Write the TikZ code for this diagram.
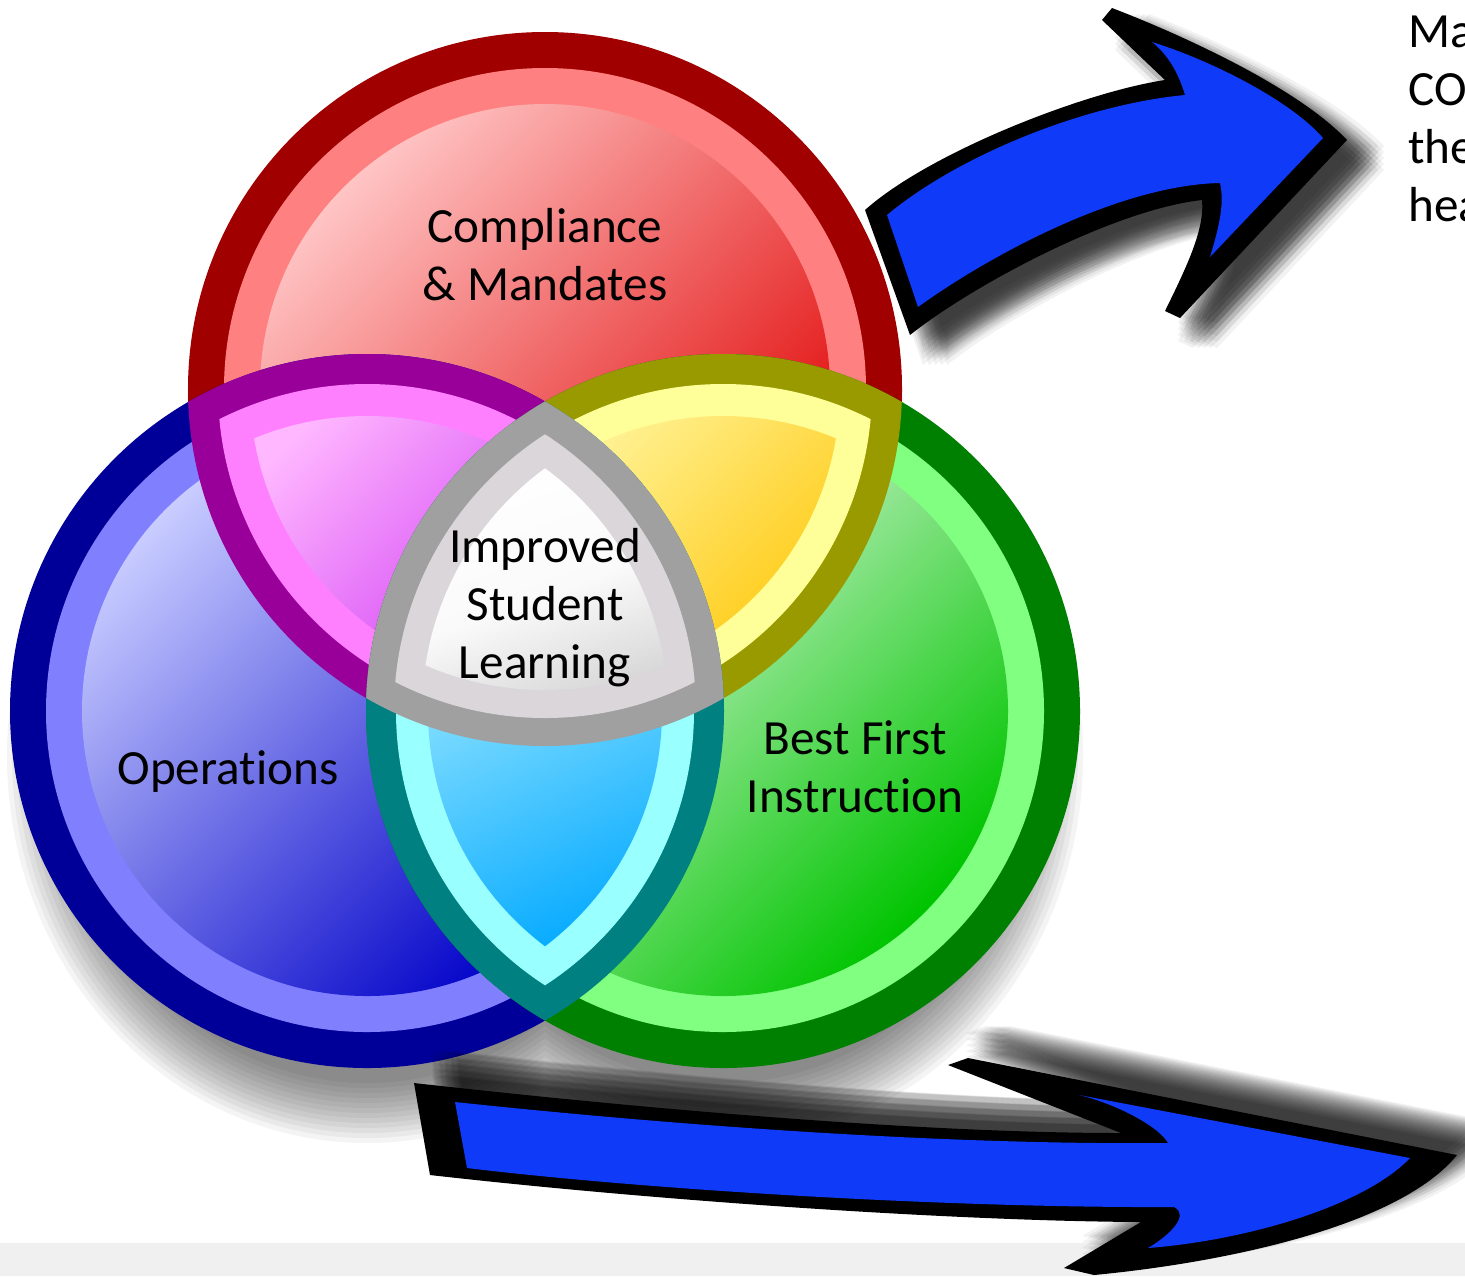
\documentclass[tikz,border=0pt]{standalone}
\usepackage{fontspec}
\setmainfont[Ligatures=NoCommon]{Carlito}
\definecolor{redD}{HTML}{A00000}\definecolor{redL}{HTML}{FF8080}
\definecolor{redA}{HTML}{FFC4C4}\definecolor{redB}{HTML}{E00000}
\definecolor{bluD}{HTML}{000099}\definecolor{bluL}{HTML}{8080FF}
\definecolor{bluA}{HTML}{C8CCFF}\definecolor{bluB}{HTML}{0000C8}
\definecolor{grnD}{HTML}{008000}\definecolor{grnL}{HTML}{80FF80}
\definecolor{grnA}{HTML}{FFFFFF}\definecolor{grnB}{HTML}{00C400}
\definecolor{magD}{HTML}{990099}\definecolor{magL}{HTML}{FF80FF}
\definecolor{magA}{HTML}{FFB8FF}\definecolor{magB}{HTML}{C41CF0}
\definecolor{yelD}{HTML}{999900}\definecolor{yelL}{HTML}{FFFF99}
\definecolor{yelA}{HTML}{FFFFC0}\definecolor{yelB}{HTML}{FFC400}
\definecolor{cyaD}{HTML}{008080}\definecolor{cyaL}{HTML}{99FFFF}
\definecolor{cyaA}{HTML}{D4FFFF}\definecolor{cyaB}{HTML}{00A8FF}
\definecolor{gryD}{HTML}{A0A0A0}\definecolor{gryL}{HTML}{DAD6DA}
\definecolor{gryM}{HTML}{FAFAFA}\definecolor{gryB}{HTML}{D0D0D0}
\definecolor{arrBlue}{RGB}{14,58,248}
\definecolor{stripGray}{HTML}{F0F0F0}
\begin{document}
\begin{tikzpicture}[x=0.5pt,y=-0.5pt,
  lab/.style={font=\fontsize{24.6}{29}\selectfont, align=center, inner sep=0pt, text=black},
  sidetext/.style={font=\fontsize{24.6}{29}\selectfont, align=left, inner sep=0pt, text=black},
  toparr/.style={insert path={(865,210) .. controls (930,152) and (1085,92) .. (1165,80) -- (1102,20) -- (1112,8) .. controls (1190,38) and (1300,90) .. (1347,140) -- (1180,318) -- (1165,311) .. controls (1185,270) and (1205,230) .. (1202,200) .. controls (1112,210) and (970,287) .. (910,335) -- cycle}},
  toparrin/.style={insert path={(887,215) .. controls (955,158) and (1080,105) .. (1185,95) .. controls (1178,72) and (1168,55) .. (1152,42) .. controls (1210,60) and (1290,100) .. (1323,138) -- (1210,257) .. controls (1218,230) and (1225,205) .. (1220,183) .. controls (1120,185) and (990,255) .. (918,307) -- cycle}},
  botarr/.style={insert path={(414,1083) .. controls (700,1115) and (950,1133) .. (1121,1133) -- (948,1065) -- (968,1058) -- (1457,1155) .. controls (1400,1225) and (1230,1262) .. (1094,1275) -- (1064,1268) -- (1141,1222) .. controls (950,1221) and (650,1200) .. (430,1175) -- cycle}},
  botarrin/.style={insert path={(455,1102) .. controls (700,1128) and (960,1145) .. (1168,1143) .. controls (1160,1128) and (1120,1105) .. (1079,1095) -- (1410,1158) .. controls (1365,1205) and (1250,1240) .. (1148,1248) .. controls (1170,1235) and (1190,1215) .. (1174,1207) .. controls (950,1208) and (650,1190) .. (467,1168) -- cycle}}
]
\useasboundingbox (0,0) rectangle (1465,1276);
\clip (0,0) rectangle (1465,1276);
\fill[white] (0,0) rectangle (1465,1276);
\fill[stripGray] (0,1243) rectangle (1465,1276);

\coordinate (A) at (545,389);
\coordinate (B) at (367,711);
\coordinate (C) at (723,711);

% soft shadow below the diagram
\foreach \e in {-30,-25,...,30}{
  \fill[black,opacity=0.045] ([shift={(0,45)}]A) ellipse[x radius={330+\e}, y radius={357+\e}]
    ([shift={(0,45)}]B) ellipse[x radius={330+\e}, y radius={357+\e}]
    ([shift={(0,45)}]C) ellipse[x radius={330+\e}, y radius={357+\e}];
}

% the three circles
\foreach \P/\d/\l/\ga/\gb in {A/redD/redL/redA/redB, B/bluD/bluL/bluA/bluB, C/grnD/grnL/grnA/grnB}{
  \fill[\d] (\P) circle[radius=357];
  \fill[\l] (\P) circle[radius=321];
  \shade[top color=\ga, bottom color=\gb, shading angle=45] (\P) circle[radius=285];
}

% the three lenses
\foreach \P/\Q/\d/\l/\ga/\gb/\xa/\ya/\xb/\yb/\ang in {A/B/magD/magL/magA/magB/220/390/690/710/45, A/C/yelD/yelL/yelA/yelB/400/390/880/710/45, B/C/cyaD/cyaL/cyaA/cyaB/410/430/680/990/25}{
  \begin{scope}\clip (\P) circle[radius=357]; \fill[\d] (\Q) circle[radius=357];\end{scope}
  \begin{scope}\clip (\P) circle[radius=327]; \fill[\l] (\Q) circle[radius=327];\end{scope}
  \begin{scope}\clip (\P) circle[radius=295]; \clip (\Q) circle[radius=295];
    \shade[top color=\ga, bottom color=\gb, shading angle=\ang] (\xa,\ya) rectangle (\xb,\yb);\end{scope}
}

% the centre
\begin{scope}\clip (A) circle[radius=357]; \clip (B) circle[radius=357]; \fill[gryD] (C) circle[radius=357];\end{scope}
\begin{scope}\clip (A) circle[radius=329]; \clip (B) circle[radius=329]; \fill[gryL] (C) circle[radius=329];\end{scope}
\begin{scope}\clip (A) circle[radius=301]; \clip (B) circle[radius=301]; \clip (C) circle[radius=301];
  \shade[top color=white, bottom color=gryB, middle color=gryM, shading angle=20] (410,460) rectangle (680,730);\end{scope}

% labels
\node[lab] (comp) at (545,255) {Compliance\\\& Mandates};
\node[lab] (isl) at (545,608) {Improved\\Student\\Learning};
\node[lab, anchor=base] (ops) at (228,784) {Operations};
\node[lab] (bfi) at (855,767) {Best First\\Instruction};

% arrow shadows
\foreach \dx in {-12,-6,0,6,12}{
  \foreach \dy in {-12,-6,0,6,12}{
    \fill[black,opacity=0.05,shift={(25+\dx,18+\dy)},toparr];
    \fill[black,opacity=0.05,shift={(30+\dx,-20+\dy)},botarr];
  }
}
% arrows
\fill[black,toparr];
\fill[arrBlue,toparrin];
\fill[black,botarr];
\fill[arrBlue,botarrin];

\node[sidetext, anchor=north west] (side) at (1408,16) {Ma\\CO\\the\\hea};
\end{tikzpicture}
\end{document}
